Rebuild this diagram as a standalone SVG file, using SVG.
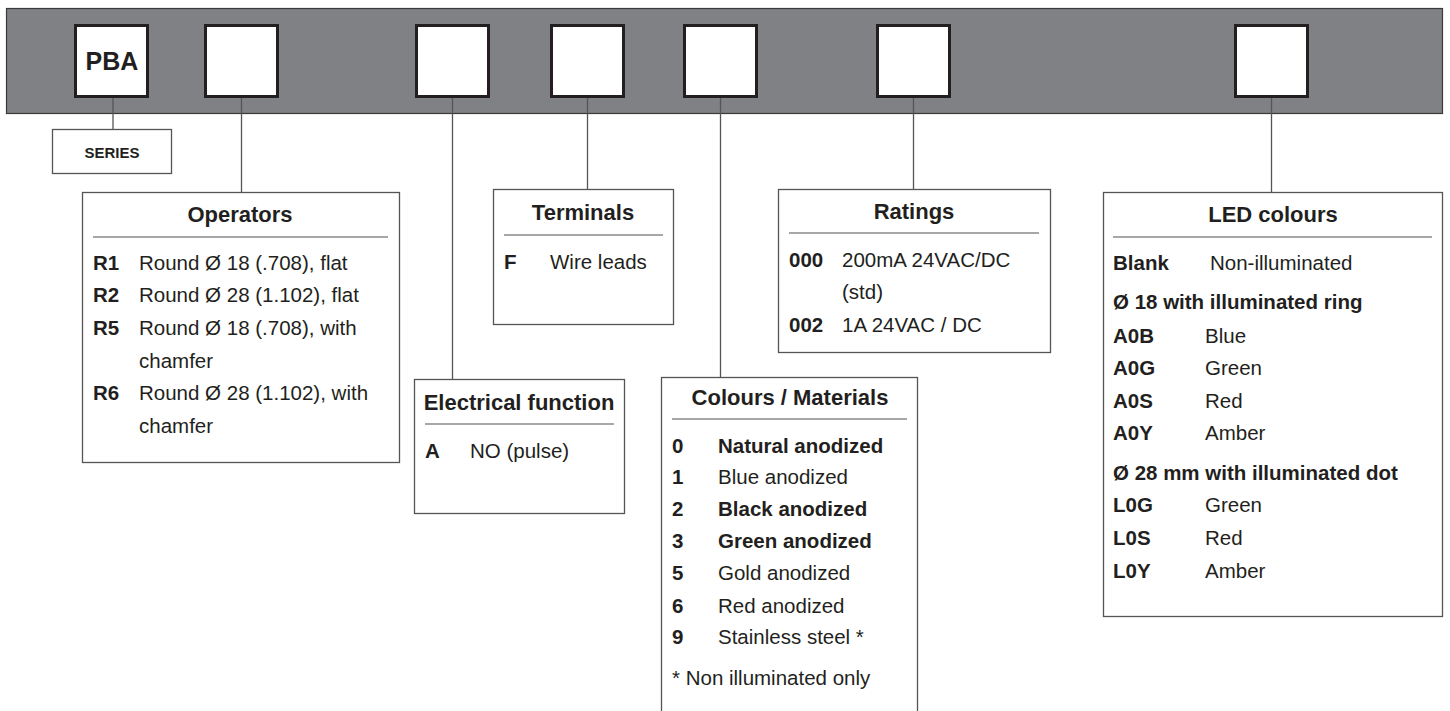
<svg xmlns="http://www.w3.org/2000/svg" width="1450" height="711" viewBox="0 0 1450 711">
<style>
text{font-family:"Liberation Sans",Arial,sans-serif;fill:#231f20}
.t{font-size:22px;font-weight:bold;text-anchor:middle}
.b{font-size:20.5px;font-weight:bold}
.r{font-size:20.5px}
.slot{fill:#fff;stroke:#231f20;stroke-width:3}
.box{fill:#fff;stroke:#555;stroke-width:1.3}
.sep{stroke:#8a8a8a;stroke-width:1.3}
.con{stroke:#555;stroke-width:1.3;fill:none}
</style>
<rect id="bar" x="6.5" y="8.5" width="1436" height="105" fill="#808184" stroke="#3a3a3a" stroke-width="1.2"/>
<g id="slots">
<rect class="slot" x="75.5" y="25.5" width="72" height="71"/>
<text x="112" y="70" style="font-size:25px;font-weight:bold;text-anchor:middle">PBA</text>
<rect class="slot" x="205.5" y="25.5" width="72" height="71"/>
<rect class="slot" x="416.5" y="25.5" width="72" height="71"/>
<rect class="slot" x="551.5" y="25.5" width="72" height="71"/>
<rect class="slot" x="684.5" y="25.5" width="72" height="71"/>
<rect class="slot" x="877.5" y="25.5" width="72" height="71"/>
<rect class="slot" x="1235.5" y="25.5" width="72" height="71"/>
</g>
<g id="connectors">
<line class="con" x1="113" y1="98" x2="113" y2="129"/>
<line class="con" x1="241.5" y1="98" x2="241.5" y2="192"/>
<line class="con" x1="452.5" y1="98" x2="452.5" y2="379"/>
<line class="con" x1="587.5" y1="98" x2="587.5" y2="189"/>
<line class="con" x1="720.5" y1="98" x2="720.5" y2="377"/>
<line class="con" x1="913.5" y1="98" x2="913.5" y2="189"/>
<line class="con" x1="1271.5" y1="98" x2="1271.5" y2="192"/>
</g>
<g id="series">
<rect class="box" x="52.5" y="129.5" width="119" height="44"/>
<text x="112" y="158" style="font-size:15px;font-weight:bold;text-anchor:middle">SERIES</text>
</g>
<g id="operators">
<rect class="box" x="82.5" y="192.5" width="317" height="270"/>
<text class="t" x="240" y="222">Operators</text>
<line class="sep" x1="93" y1="237" x2="388" y2="237"/>
<text class="b" x="93" y="270">R1</text><text class="r" x="139" y="270">Round Ø 18 (.708), flat</text>
<text class="b" x="93" y="302">R2</text><text class="r" x="139" y="302">Round Ø 28 (1.102), flat</text>
<text class="b" x="93" y="335">R5</text><text class="r" x="139" y="335">Round Ø 18 (.708), with</text>
<text class="r" x="139" y="368">chamfer</text>
<text class="b" x="93" y="400">R6</text><text class="r" x="139" y="400">Round Ø 28 (1.102), with</text>
<text class="r" x="139" y="433">chamfer</text>
</g>
<g id="electrical">
<rect class="box" x="414.5" y="379.5" width="210" height="134"/>
<text class="t" x="519" y="410">Electrical function</text>
<line class="sep" x1="425" y1="424" x2="614" y2="424"/>
<text class="b" x="425" y="458">A</text><text class="r" x="470" y="458">NO (pulse)</text>
</g>
<g id="terminals">
<rect class="box" x="493.5" y="189.5" width="180" height="135"/>
<text class="t" x="583" y="220">Terminals</text>
<line class="sep" x1="504" y1="235" x2="663" y2="235"/>
<text class="b" x="504" y="269">F</text><text class="r" x="550" y="269">Wire leads</text>
</g>
<g id="colours">
<rect class="box" x="661.5" y="377.5" width="256" height="340"/>
<text class="t" x="790" y="405">Colours / Materials</text>
<line class="sep" x1="672" y1="419" x2="907" y2="419"/>
<text class="b" x="672" y="453">0</text><text class="b" x="718" y="453">Natural anodized</text>
<text class="b" x="672" y="484">1</text><text class="r" x="718" y="484">Blue anodized</text>
<text class="b" x="672" y="516">2</text><text class="b" x="718" y="516">Black anodized</text>
<text class="b" x="672" y="548">3</text><text class="b" x="718" y="548">Green anodized</text>
<text class="b" x="672" y="580">5</text><text class="r" x="718" y="580">Gold anodized</text>
<text class="b" x="672" y="613">6</text><text class="r" x="718" y="613">Red anodized</text>
<text class="b" x="672" y="644">9</text><text class="r" x="718" y="644">Stainless steel *</text>
<text class="r" x="672" y="685">* Non illuminated only</text>
</g>
<g id="ratings">
<rect class="box" x="778.5" y="189.5" width="272" height="163"/>
<text class="t" x="914" y="219">Ratings</text>
<line class="sep" x1="789" y1="233" x2="1039" y2="233"/>
<text class="b" x="789" y="267">000</text><text class="r" x="842" y="267">200mA 24VAC/DC</text>
<text class="r" x="842" y="299">(std)</text>
<text class="b" x="789" y="332">002</text><text class="r" x="842" y="332">1A 24VAC / DC</text>
</g>
<g id="led">
<rect class="box" x="1103.5" y="192.5" width="339" height="424"/>
<text class="t" x="1273" y="222">LED colours</text>
<line class="sep" x1="1113" y1="237" x2="1432" y2="237"/>
<text class="b" x="1113" y="270">Blank</text><text class="r" x="1210" y="270">Non-illuminated</text>
<text class="b" x="1113" y="309">Ø 18 with illuminated ring</text>
<text class="b" x="1113" y="343">A0B</text><text class="r" x="1205" y="343">Blue</text>
<text class="b" x="1113" y="375">A0G</text><text class="r" x="1205" y="375">Green</text>
<text class="b" x="1113" y="408">A0S</text><text class="r" x="1205" y="408">Red</text>
<text class="b" x="1113" y="440">A0Y</text><text class="r" x="1205" y="440">Amber</text>
<text class="b" x="1113" y="480">Ø 28 mm with illuminated dot</text>
<text class="b" x="1113" y="512">L0G</text><text class="r" x="1205" y="512">Green</text>
<text class="b" x="1113" y="545">L0S</text><text class="r" x="1205" y="545">Red</text>
<text class="b" x="1113" y="578">L0Y</text><text class="r" x="1205" y="578">Amber</text>
</g>
</svg>
